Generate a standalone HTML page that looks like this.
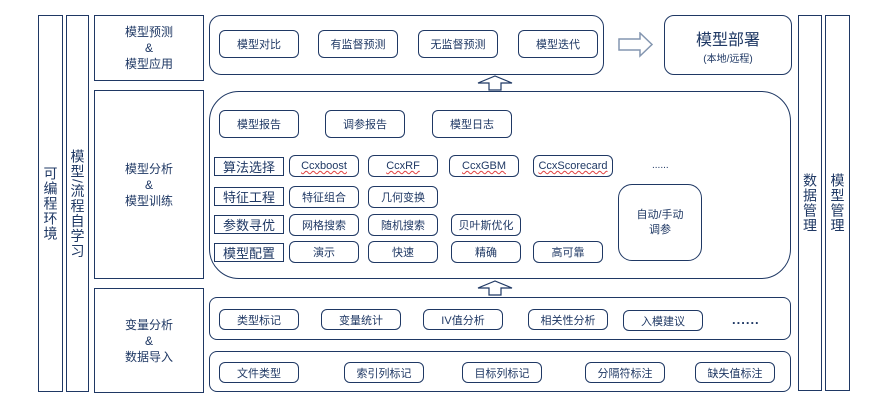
<!DOCTYPE html>
<html><head><meta charset="utf-8"><style>
body{margin:0;width:879px;height:407px;background:#fff;position:relative;overflow:hidden;font-family:"Liberation Sans","Noto Sans CJK SC",sans-serif;color:#1f3864}
div{position:absolute;box-sizing:border-box}
.b{border:1.5px solid #1f3864}
.r{border:1.5px solid #1f3864;border-radius:6px;display:flex;align-items:center;justify-content:center;font-size:11px}
.c{display:flex;align-items:center;justify-content:center;text-align:center}
.v{writing-mode:vertical-rl;font-size:14px;display:flex;align-items:center;justify-content:center;letter-spacing:1px}
.l{border:1.5px solid #1f3864;font-size:13px;display:flex;align-items:center;justify-content:center}
.w{text-decoration:underline wavy #e04040;text-decoration-thickness:1px}
</style></head><body>
<div class="b v" style="left:38px;top:15px;width:25px;height:377px">可编程环境</div>
<div class="b v" style="left:66px;top:15px;width:23px;height:377px">模型/流程自学习</div>
<div class="b v" style="left:798px;top:15px;width:24px;height:376px">数据管理</div>
<div class="b v" style="left:825px;top:15px;width:25px;height:376px">模型管理</div>

<div class="b c" style="left:94px;top:15px;width:110px;height:66px;font-size:12px;line-height:16px">模型预测<br>&amp;<br>模型应用</div>
<div class="b c" style="left:94px;top:90px;width:110px;height:189px;font-size:12px;line-height:16px">模型分析<br>&amp;<br>模型训练</div>
<div class="b c" style="left:94px;top:288px;width:110px;height:105px;font-size:12px;line-height:16px">变量分析<br>&amp;<br>数据导入</div>

<div class="b" style="left:209px;top:15px;width:395px;height:60px;border-radius:12px"></div>
<div class="r" style="left:219px;top:30px;width:80px;height:28px">模型对比</div>
<div class="r" style="left:318px;top:30px;width:80px;height:28px">有监督预测</div>
<div class="r" style="left:418px;top:30px;width:80px;height:28px">无监督预测</div>
<div class="r" style="left:518px;top:30px;width:80px;height:28px">模型迭代</div>
<svg style="position:absolute;left:618px;top:32px" width="36" height="26"><polygon points="1,7 22,7 22,1 34,12.5 22,24 22,18 1,18" fill="#fff" stroke="#8496b0" stroke-width="1.5"/></svg>
<div class="b c" style="left:664px;top:15px;width:128px;height:60px;border-radius:10px;flex-direction:column"><span style="font-size:16px">模型部署</span><span style="font-size:10px">(本地/远程)</span></div>

<div class="b" style="left:209px;top:91px;width:582px;height:188px;border-radius:30px"></div>
<div class="r" style="left:219px;top:110px;width:80px;height:28px">模型报告</div>
<div class="r" style="left:325px;top:110px;width:80px;height:28px">调参报告</div>
<div class="r" style="left:432px;top:110px;width:80px;height:28px">模型日志</div>

<div class="l" style="left:214px;top:157px;width:70px;height:19px">算法选择</div>
<div class="l" style="left:214px;top:187px;width:70px;height:19px">特征工程</div>
<div class="l" style="left:214px;top:215px;width:70px;height:19px">参数寻优</div>
<div class="l" style="left:214px;top:243px;width:70px;height:19px">模型配置</div>

<div class="r" style="left:289px;top:155px;width:70px;height:22px"><span class="w">Ccxboost</span></div>
<div class="r" style="left:368px;top:155px;width:70px;height:22px"><span class="w">CcxRF</span></div>
<div class="r" style="left:449px;top:155px;width:70px;height:22px"><span class="w">CcxGBM</span></div>
<div class="r" style="left:533px;top:155px;width:80px;height:22px"><span class="w">CcxScorecard</span></div>
<div style="left:652px;top:160px;font-size:10px">......</div>
<div class="r" style="left:289px;top:186px;width:70px;height:22px">特征组合</div>
<div class="r" style="left:368px;top:186px;width:70px;height:22px">几何变换</div>
<div class="r" style="left:289px;top:214px;width:70px;height:22px">网格搜索</div>
<div class="r" style="left:368px;top:214px;width:70px;height:22px">随机搜索</div>
<div class="r" style="left:451px;top:214px;width:70px;height:22px">贝叶斯优化</div>
<div class="r" style="left:289px;top:241px;width:70px;height:22px">演示</div>
<div class="r" style="left:368px;top:241px;width:70px;height:22px">快速</div>
<div class="r" style="left:451px;top:241px;width:70px;height:22px">精确</div>
<div class="r" style="left:533px;top:241px;width:70px;height:22px">高可靠</div>
<div class="r" style="left:618px;top:184px;width:84px;height:77px;border-radius:14px;text-align:center;line-height:15px">自动/手动<br>调参</div>

<svg style="position:absolute;left:477px;top:280px" width="36" height="16"><polygon points="1,8 18,1 35,8 24,8 24,15 12,15 12,8" fill="#fff" stroke="#1f3864" stroke-width="1.2"/></svg>
<svg style="position:absolute;left:477px;top:75px" width="36" height="16"><polygon points="1,8 18,1 35,8 24,8 24,15 12,15 12,8" fill="#fff" stroke="#1f3864" stroke-width="1.2"/></svg>

<div class="b" style="left:209px;top:297px;width:582px;height:43px;border-radius:8px"></div>
<div class="r" style="left:219px;top:309px;width:80px;height:21px">类型标记</div>
<div class="r" style="left:321px;top:309px;width:80px;height:21px">变量统计</div>
<div class="r" style="left:423px;top:309px;width:80px;height:21px">IV值分析</div>
<div class="r" style="left:528px;top:309px;width:80px;height:21px">相关性分析</div>
<div class="r" style="left:623px;top:310px;width:80px;height:21px">入模建议</div>
<div style="left:732px;top:312px;font-size:13px;font-weight:bold;letter-spacing:1px">......</div>

<div class="b" style="left:209px;top:351px;width:582px;height:41px;border-radius:8px"></div>
<div class="r" style="left:219px;top:362px;width:80px;height:21px">文件类型</div>
<div class="r" style="left:344px;top:362px;width:80px;height:21px">索引列标记</div>
<div class="r" style="left:462px;top:362px;width:80px;height:21px">目标列标记</div>
<div class="r" style="left:585px;top:362px;width:80px;height:21px">分隔符标注</div>
<div class="r" style="left:695px;top:362px;width:80px;height:21px">缺失值标注</div>
</body></html>
